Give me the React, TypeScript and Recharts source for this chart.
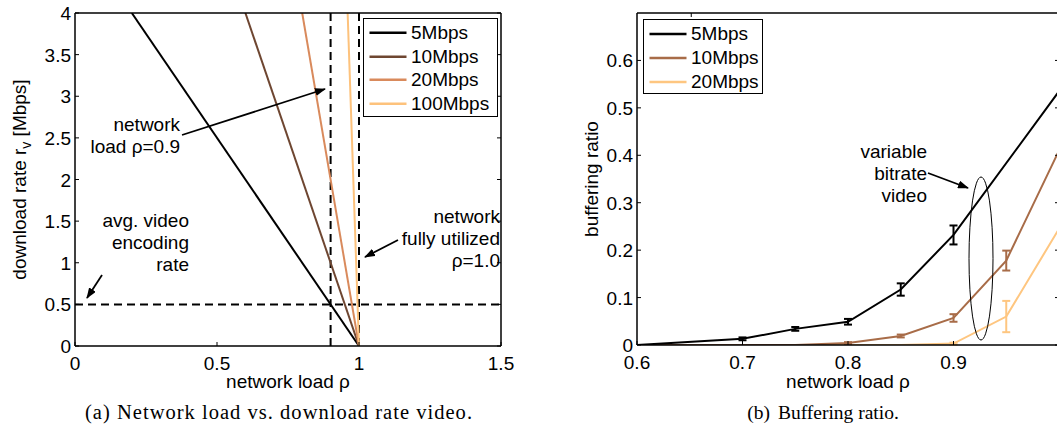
import React from 'react';
import { LineChart, Line, XAxis, YAxis, ReferenceLine, ErrorBar, Legend } from 'recharts';

const FONT = '"Liberation Sans", Arial, Helvetica, sans-serif';
const SERIF = '"Liberation Serif", "Times New Roman", serif';

// ---------- (a) Network load vs. download rate ----------
const namesA = ['5Mbps', '10Mbps', '20Mbps', '100Mbps'];
const colorsA = ['#000000', '#6e4631', '#d98a5c', '#fdc27c'];
const loadAtTopA = [0.2, 0.6, 0.8, 0.96];
const rateAtTopA = [4, 4, 4, 4];
const loadAtZeroA = [1, 1, 1, 1];
const rateAtZeroA = [0, 0, 0, 0];
const xTicksA = [0, 0.5, 1, 1.5];
const yTicksA = [0, 0.5, 1, 1.5, 2, 2.5, 3, 3.5, 4];
const avgEncodingRate = 0.5;
const markedLoads = [0.9, 1.0];

// ---------- (b) Buffering ratio ----------
const namesB = ['5Mbps', '10Mbps', '20Mbps'];
const colorsB = ['#000000', '#a86c48', '#fec680'];
const loadsB = [0.6, 0.7, 0.75, 0.8, 0.85, 0.9, 0.95, 1.0];
const buf5 = [0, 0.013, 0.034, 0.049, 0.117, 0.232, null, 0.535];
const err5 = [0, 0.003, 0.004, 0.006, 0.013, 0.02, null, null];
const buf10 = [0, 0, 0, 0.004, 0.019, 0.057, 0.178, 0.41];
const err10 = [0, 0, 0, 0.002, 0.003, 0.008, 0.021, null];
const buf20 = [0, 0, 0, 0, 0, 0.003, 0.06, 0.245];
const err20 = [0, 0, 0, 0, 0, 0.002, 0.033, null];
const xTicksB = [0.6, 0.7, 0.8, 0.9];
const yTicksB = [0, 0.1, 0.2, 0.3, 0.4, 0.5, 0.6];

const seriesA = namesA.map((_, i) => [
  { load: loadAtTopA[i], rate: rateAtTopA[i] },
  { load: loadAtZeroA[i], rate: rateAtZeroA[i] },
]);

const tableB = loadsB.map((load, i) => ({
  load,
  b5: buf5[i], e5: err5[i],
  b10: buf10[i], e10: err10[i],
  b20: buf20[i], e20: err20[i],
}));

const TL = 4;

const BottomTick = (props: any) => {
  const { x, y, payload } = props;
  return (
    <g>
      <line x1={x} y1={y} x2={x} y2={y - TL} stroke="#000" strokeWidth={1} />
      <text x={x} y={y + 24} textAnchor="middle" fontSize={19} fontFamily={FONT} fill="#000">
        {String(payload.value)}
      </text>
    </g>
  );
};
const LeftTick = (props: any) => {
  const { x, y, payload } = props;
  return (
    <g>
      <line x1={x} y1={y} x2={x + TL} y2={y} stroke="#000" strokeWidth={1} />
      <text x={x - 4} y={y + 7} textAnchor="end" fontSize={19} fontFamily={FONT} fill="#000">
        {String(payload.value)}
      </text>
    </g>
  );
};
const TopTick = (props: any) => {
  const { x, y } = props;
  return <line x1={x} y1={y} x2={x} y2={y + TL} stroke="#000" strokeWidth={1} />;
};
const RightTick = (props: any) => {
  const { x, y } = props;
  return <line x1={x} y1={y} x2={x - TL} y2={y} stroke="#000" strokeWidth={1} />;
};

const makeLegend = (names: string[], colors: string[], w: number, h: number, rowH: number, padTop: number) => () => (
  <div
    style={{
      width: w, height: h, border: '1.5px solid #000', background: '#fff', boxSizing: 'border-box',
      fontFamily: FONT, fontSize: 19, color: '#000', paddingTop: padTop, lineHeight: 1,
    }}
  >
    {names.map((n, i) => (
      <div key={n} style={{ display: 'flex', alignItems: 'center', height: rowH }}>
        <svg width={46} height={rowH} style={{ display: 'block', flex: 'none' }}>
          <line x1={5.5} y1={rowH / 2} x2={42.5} y2={rowH / 2} stroke={colors[i]} strokeWidth={2.5} />
        </svg>
        <span style={{ marginLeft: 1 }}>{n}</span>
      </div>
    ))}
  </div>
);

const axisLine = { stroke: '#000', strokeWidth: 1.5 };
const dashed = '8 5';

const ChartA = () => (
  <LineChart width={530} height={431} margin={{ top: 12, right: 28, bottom: 55, left: 35 }}>
    <XAxis xAxisId={0} dataKey="load" type="number" domain={[0, 1.5]} ticks={xTicksA} allowDataOverflow
      height={30} tickSize={0} tickMargin={0} tickLine={false} axisLine={axisLine} tick={<BottomTick />} />
    <XAxis xAxisId="top" orientation="top" type="number" domain={[0, 1.5]} ticks={xTicksA} allowDataOverflow
      height={1} tickSize={0} tickMargin={0} tickLine={false} axisLine={axisLine} tick={<TopTick />} />
    <YAxis yAxisId={0} type="number" domain={[0, 4]} ticks={yTicksA} allowDataOverflow
      width={40} tickSize={0} tickMargin={0} tickLine={false} axisLine={axisLine} tick={<LeftTick />} />
    <YAxis yAxisId="right" orientation="right" type="number" domain={[0, 4]} ticks={yTicksA} allowDataOverflow
      width={1} tickSize={0} tickMargin={0} tickLine={false} axisLine={axisLine} tick={<RightTick />} />
    <ReferenceLine y={avgEncodingRate} stroke="#000" strokeWidth={2} strokeDasharray={dashed} />
    {markedLoads.map((m) => (
      <ReferenceLine key={m} x={m} stroke="#000" strokeWidth={2} strokeDasharray={dashed} />
    ))}
    {namesA.map((n, i) => (
      <Line key={n} data={seriesA[i]} dataKey="rate" name={n} stroke={colorsA[i]} strokeWidth={2}
        dot={false} activeDot={false} isAnimationActive={false} />
    ))}
    <Legend layout="vertical" align="center" verticalAlign="middle"
      wrapperStyle={{ left: 363, top: 18, width: 135, height: 99 }}
      content={makeLegend(namesA, colorsA, 135, 99, 23.5, 2)} />
  </LineChart>
);

const ChartB = () => (
  <LineChart width={540} height={431} data={tableB} margin={{ top: 12, right: 10, bottom: 56, left: 67 }}>
    <XAxis xAxisId={0} dataKey="load" type="number" domain={[0.6, 1.0]} ticks={xTicksB} allowDataOverflow
      height={30} tickSize={0} tickMargin={0} tickLine={false} axisLine={axisLine} tick={<BottomTick />} />
    <XAxis xAxisId="top" orientation="top" type="number" domain={[0.6, 1.0]} ticks={xTicksB} allowDataOverflow
      height={1} tickSize={0} tickMargin={0} tickLine={false} axisLine={axisLine} tick={<TopTick />} />
    <YAxis yAxisId={0} type="number" domain={[0, 0.7]} ticks={yTicksB} allowDataOverflow
      width={40} tickSize={0} tickMargin={0} tickLine={false} axisLine={axisLine} tick={<LeftTick />} />
    <YAxis yAxisId="right" orientation="right" type="number" domain={[0, 0.7]} ticks={yTicksB} allowDataOverflow
      width={1} tickSize={0} tickMargin={0} tickLine={false} axisLine={axisLine} tick={<RightTick />} />
    <Line dataKey="b20" name={namesB[2]} stroke={colorsB[2]} strokeWidth={2} dot={false} activeDot={false}
      connectNulls isAnimationActive={false}>
      <ErrorBar dataKey="e20" width={4} stroke={colorsB[2]} strokeWidth={2} direction="y" />
    </Line>
    <Line dataKey="b10" name={namesB[1]} stroke={colorsB[1]} strokeWidth={2} dot={false} activeDot={false}
      connectNulls isAnimationActive={false}>
      <ErrorBar dataKey="e10" width={4} stroke={colorsB[1]} strokeWidth={2} direction="y" />
    </Line>
    <Line dataKey="b5" name={namesB[0]} stroke={colorsB[0]} strokeWidth={2} dot={false} activeDot={false}
      connectNulls isAnimationActive={false}>
      <ErrorBar dataKey="e5" width={4} stroke={colorsB[0]} strokeWidth={2} direction="y" />
    </Line>
    <Legend layout="vertical" align="center" verticalAlign="middle"
      wrapperStyle={{ left: 113, top: 19, width: 120, height: 75 }}
      content={makeLegend(namesB, colorsB, 120, 75, 24, 1.5)} />
  </LineChart>
);

const Overlay = () => (
  <svg width={1057} height={431} style={{ position: 'absolute', left: 0, top: 0, pointerEvents: 'none' }}
    fontFamily={FONT} fontSize={19} fill="#000">
    <defs>
      <marker id="ah" markerWidth={11} markerHeight={8} refX={10} refY={4} orient="auto" markerUnits="userSpaceOnUse">
        <path d="M0,0 L11,4 L0,8 z" fill="#000" />
      </marker>
    </defs>
    {/* (a) annotations */}
    <text x={180} y={131} textAnchor="end">network</text>
    <text x={180} y={153} textAnchor="end">load ρ=0.9</text>
    <line x1={182} y1={135} x2={325} y2={89} stroke="#000" strokeWidth={1.8} markerEnd="url(#ah)" />
    <text x={189} y={227} textAnchor="end">avg. video</text>
    <text x={189} y={249} textAnchor="end">encoding</text>
    <text x={189} y={271} textAnchor="end">rate</text>
    <line x1={102} y1={275} x2={87} y2={298} stroke="#000" strokeWidth={1.8} markerEnd="url(#ah)" />
    <text x={500} y={223} textAnchor="end">network</text>
    <text x={500} y={245} textAnchor="end">fully utilized</text>
    <text x={500} y={267} textAnchor="end">ρ=1.0</text>
    <line x1={398} y1={240} x2={365} y2={257} stroke="#000" strokeWidth={1.8} markerEnd="url(#ah)" />
    <text x={288} y={388} textAnchor="middle">network load ρ</text>
    <text transform="translate(26,179.5) rotate(-90)" textAnchor="middle">
      download rate r<tspan dy={5} fontSize={14}>v</tspan><tspan dy={-5}> [Mbps]</tspan>
    </text>
    <text x={85} y={419} textAnchor="start" fontFamily={SERIF} fontSize={20.5}
      textLength={387} lengthAdjust="spacing">
      (a)  Network load vs. download rate video.
    </text>
    {/* (b) annotations */}
    <text x={927} y={158} textAnchor="end">variable</text>
    <text x={927} y={180} textAnchor="end">bitrate</text>
    <text x={927} y={202} textAnchor="end">video</text>
    <line x1={928} y1={173} x2={968} y2={188} stroke="#000" strokeWidth={1.8} markerEnd="url(#ah)" />
    <ellipse cx={981} cy={258.5} rx={12} ry={81.5} fill="none" stroke="#000" strokeWidth={1} />
    <text x={848} y={388} textAnchor="middle">network load ρ</text>
    <text transform="translate(598,179) rotate(-90)" textAnchor="middle">buffering ratio</text>
    <text x={823} y={419} textAnchor="middle" fontFamily={SERIF} fontSize={19.5}>
      (b)<tspan dx={8}>Buffering ratio.</tspan>
    </text>
  </svg>
);

export default function App() {
  return (
    <div style={{ position: 'absolute', left: 0, top: 0, width: 1057, height: 431, overflow: 'hidden', background: '#fff' }}>
      <div style={{ position: 'absolute', left: 0, top: 0 }}>
        <ChartA />
      </div>
      <div style={{ position: 'absolute', left: 530, top: 0 }}>
        <ChartB />
      </div>
      <Overlay />
    </div>
  );
}
